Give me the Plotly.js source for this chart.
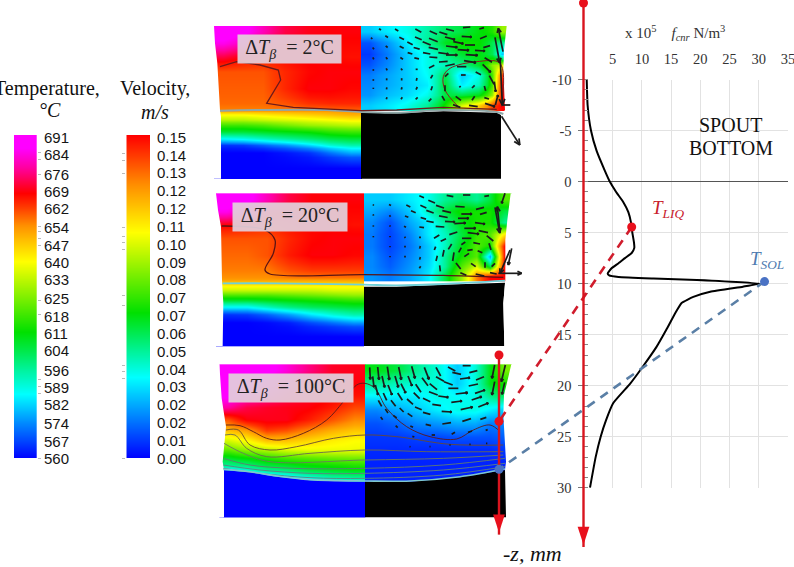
<!DOCTYPE html>
<html><head><meta charset="utf-8">
<script src="https://cdn.plot.ly/plotly-3.0.1.min.js"></script>
<style>html,body{margin:0;padding:0;background:#fff}#c{width:794px;height:567px}</style>
</head><body><div id="c"></div>
<script>
// ---------- colour bars ----------
const temperatureTicks=[691,684,676,669,662,654,647,640,633,625,618,611,604,596,589,582,574,567,560];
const velocityTicks=[0.15,0.1417,0.1333,0.125,0.1167,0.1083,0.1,0.0917,0.0833,0.075,0.0667,0.0583,0.05,0.0417,0.0333,0.025,0.0167,0.0083,0];
const velocityLabels=['0.15','0.14','0.13','0.12','0.12','0.11','0.10','0.09','0.08','0.07','0.07','0.06','0.05','0.04','0.03','0.02','0.02','0.01','0.00'];
const temperatureMarks=[684,681,675,654,652,649,646,624,618,592,589,586,560];
const velocityMarks=[0.1415,0.138,0.132,0.107,0.103,0.1,0.097,0.0755,0.071,0.043,0.04,0.037,0];
const tempScale=[[0,'#0000ff'],[0.2,'#00ffff'],[0.39,'#00e000'],[0.61,'#ffff00'],[0.72,'#ff9000'],[0.82,'#ff0000'],[0.9,'#ff00a0'],[0.96,'#ff00ff'],[1,'#ff00ff']];
const velScale=[[0,'#0000ff'],[0.25,'#00ffff'],[0.45,'#00e000'],[0.7,'#ffff00'],[0.85,'#ff8c00'],[1,'#ff0000']];

// ---------- force curve ----------
const forceZ=[-10,-7.5,-5,-3,-1,0,1,2,3,4,5,6,6.5,7,7.5,8,8.5,9,9.2,9.35,9.5,9.65,10,10.3,10.8,11.3,11.9,12.9,14.5,16.2,18.1,19.8,21.7,23.4,25,27,30];
const forceF=[0.55,0.7,1.28,2.25,3.7,4.5,5.56,6.8,7.68,8.13,8.36,8.65,8.7,8.25,7.1,6,4.8,4.14,4.4,6,12,19.4,30.2,27.3,21.7,18.8,16.8,15.7,14.2,12.5,10.2,8,5.1,3.85,2.94,2.08,1.11];
const forceTicks=[5,10,15,20,25,30,35];
const depthTicks=[-10,-5,0,5,10,15,20,25,30];
const depthLabels=['-10','-5','0','5','10','15','20','25','30'];
const liqPoint=[8.25,4.45], solPoint=[31,9.8];
const lowerAxisF=-14.47, lowerLiqZ=23.5, lowerSolZ=28.2, lowerTopZ=17, lowerEndZ=35.2;
const mainTopZ=-17.5, mainEndZ=36.4;

// ---------- panel 1 (dT = 2) ----------
const t1X=[12,70,130,190,260,330,390,455];
const t1Y=[18,50,90,130,180,230,268,276,290,305,325,345,365,385,410,476];
const t1Z=[[691,688,680,672,669,668,668],[684,680,672,668,667,667,667],[672,668,666,667,668,667,666],[660,660,660,664,667,668,668],[659,659,659,664,668,668,667],[658,658,658,660,663,664,664],[654,654,654,654,654,654,655],[640,640,642,644,646,648,650],[632,632,634,636,638,640,642],[618,618,620,624,628,630,632],[606,606,608,610,612,616,618],[586,588,592,596,600,604,606],[565,566,570,575,582,590,594],[560,560,560,562,565,572,578],[560,560,560,560,560,560,560]];
const v1X=[453,500,560,620,680,730,780,830,860,892];
const v1Y=[18,50,85,120,150,180,210,240,272];
const v1Z=[[.03,.035,.04,.048,.056,.06,.066,.072,.09],[.012,.022,.035,.05,.064,.07,.068,.058,.05],[.008,.018,.03,.04,.052,.062,.066,.058,.03],[.012,.02,.03,.04,.045,.05,.062,.088,.1],[.018,.024,.03,.038,.058,.03,.04,.078,.14],[.02,.025,.03,.035,.062,.035,.045,.078,.15],[.022,.028,.032,.04,.06,.06,.065,.09,.15],[.03,.034,.04,.05,.07,.1,.115,.14,.15]];
const solid1X=[453,560,700,860,873,873,453];
const solid1Y=[278,280,274,278,285,476,476];
const wallL1X=[12,15,22,30,33,33], wallL1Y=[18,70,130,270,290,476];
const wallR1X=[890,882,880,885,873,873], wallR1Y=[18,90,150,270,285,476];
const iface1X=[30,150,350,453,560,700,860,880], iface1Y=[272,270,270,276,278,270,276,282];
const cont1aX=[30,80,150,205,212,170,250,350,453,560,700,860], cont1aY=[140,125,135,150,180,250,262,268,272,270,262,268];
const cont1bX=[745,705,700,720,800,870,875], cont1bY=[260,210,170,145,125,130,260];
const arrows1=[[510,28,6,4],[560,30,10,6],[625,32,18,10],[670,38,22,10],[720,30,24,6],[770,22,22,-2],[815,25,14,-4],[485,55,4,4],[530,50,8,5],[575,55,14,7],[625,55,20,8],[670,60,26,10],[720,55,30,8],[770,50,30,2],[820,52,20,-8],[490,85,4,5],[530,80,6,5],[575,82,12,6],[620,85,18,5],[670,85,28,6],[725,80,34,4],[780,75,30,0],[830,80,20,-6],[490,115,3,6],[530,115,4,6],[575,115,8,5],[620,115,14,3],[670,112,24,2],[725,105,34,0],[785,105,36,2],[835,120,22,14],[490,150,0,5],[530,148,3,6],[575,148,4,5],[620,148,6,0],[665,140,16,-8],[720,135,28,-6],[780,125,36,6],[830,145,24,24],[490,180,0,5],[530,178,0,6],[575,178,0,7],[620,178,-2,8],[665,170,-6,10],[710,165,-10,10],[760,165,14,0],[805,160,16,8],[845,180,14,26],[490,205,0,4],[530,205,-1,6],[575,205,-2,7],[620,205,-4,8],[665,205,-4,12],[705,205,0,18],[750,200,-4,4],[790,200,8,-8],[825,205,4,14],[855,200,4,30],[530,235,-2,6],[575,235,-4,6],[620,235,-6,6],[660,240,-8,8],[700,235,8,14],[745,235,16,12],[790,235,8,-12],[830,235,-14,-4],[860,240,8,-30],[740,258,22,8],[790,258,26,4],[840,255,30,10],[862,90,14,76],[872,60,-14,-70],[874,190,6,130],[888,255,26,0],[902,332,55,86],[700,40,24,8],[745,68,30,6],[700,100,30,4],[760,90,34,2],[810,92,30,2],[650,70,24,10],[600,70,16,8],[600,100,14,4],[650,100,22,4],[700,125,26,-2],[755,140,28,0]];

// ---------- panel 2 (dT = 20) ----------
const t2X=[18,80,140,200,270,340,400,462];
const t2Y=[10,45,85,120,170,220,262,278,292,306,322,340,360,385,410,468];
const t2Z=[[691,688,680,672,668,668,668],[684,678,670,667,667,667,667],[668,666,664,666,667,667,666],[660,660,660,664,667,668,668],[658,658,660,665,668,668,667],[656,656,656,660,662,662,662],[652,652,652,652,652,652,652],[642,642,642,642,642,642,642],[634,634,634,634,634,636,636],[620,620,620,622,624,626,628],[606,606,608,610,612,614,616],[586,586,592,598,602,604,606],[565,566,570,576,584,590,594],[560,560,561,563,568,572,576],[560,560,560,560,560,560,560]];
const v2X=[462,510,570,630,680,730,780,820,860,905];
const v2Y=[10,45,80,115,150,185,215,245,275];
const v2Z=[[.03,.03,.035,.04,.05,.055,.05,.06,.08],[.025,.02,.03,.045,.06,.07,.07,.07,.06],[.02,.012,.025,.035,.05,.065,.07,.07,.05],[.018,.01,.02,.035,.045,.06,.075,.08,.11],[.018,.01,.018,.03,.045,.065,.08,.07,.15],[.02,.012,.02,.03,.05,.07,.08,.025,.15],[.02,.014,.022,.032,.05,.08,.1,.06,.15],[.022,.018,.024,.035,.06,.09,.13,.15,.15]];
const solid2X=[462,560,700,885,880,883,462];
const solid2Y=[290,290,284,278,340,468,468];
const wallL2X=[18,24,33,36,40,38], wallL2Y=[10,60,110,270,340,468];
const wallR2X=[902,892,886,886,880,883], wallR2Y=[10,90,150,270,340,468];
const iface2X=[38,200,462,560,700,885], iface2Y=[280,280,284,286,282,272];
const cont2X=[35,165,195,190,165,180,460,700,880], cont2Y=[108,120,150,190,240,252,254,256,262];
const arrows2=[[635,20,14,6],[665,35,20,8],[720,18,20,4],[770,15,22,0],[830,18,14,-2],[490,45,3,3],[540,45,6,3],[595,48,12,6],[640,50,18,8],[690,50,24,8],[750,50,28,2],[810,55,24,-6],[490,75,2,4],[540,78,3,4],[590,80,10,4],[640,85,16,5],[700,80,26,5],[770,72,32,0],[820,70,20,-6],[490,108,0,4],[540,108,2,4],[585,110,6,3],[635,112,14,2],[690,110,26,2],[750,100,34,-2],[810,100,30,4],[490,140,0,4],[540,140,0,4],[585,142,2,4],[630,142,6,0],[680,140,16,-10],[730,130,24,-8],[790,130,34,4],[840,145,20,16],[540,170,0,4],[585,170,0,5],[630,172,-2,8],[675,175,-4,10],[720,170,-10,16],[760,160,12,-8],[800,160,20,4],[840,170,6,20],[540,200,0,4],[585,200,0,5],[630,205,-2,8],[680,205,-4,16],[730,200,-4,26],[770,195,14,-10],[810,185,14,6],[630,232,-4,6],[690,235,2,18],[745,228,14,18],[790,225,14,10],[825,225,0,-16],[850,225,-10,10],[760,252,18,8],[810,255,26,6],[850,250,20,4],[862,90,14,76],[866,90,-8,-80],[880,25,-10,30],[885,215,-30,70],[900,200,-10,50],[900,250,70,0],[710,65,26,6],[760,85,32,0],[720,95,30,2],[780,115,34,0],[660,95,22,4],[610,65,14,6],[660,65,22,8],[700,150,16,-8],[770,145,28,0],[820,125,28,6],[750,180,8,-14],[700,190,-4,20],[780,180,16,-2]];

// ---------- panel 3 (dT = 100) ----------
const t3X=[28,80,140,200,260,330,400,465];
const t3Y=[28,60,100,140,175,210,240,270,295,320,345,365,385,487];
const t3Z=[[691,691,688,683,676,670,669],[691,688,684,678,672,669,668],[688,682,678,673,670,668,666],[678,672,670,669,668,665,661],[660,668,669,669,665,660,655],[648,652,662,660,655,650,647],[635,640,648,648,645,642,640],[622,628,632,636,638,638,638],[608,612,616,620,622,624,625],[596,598,604,606,610,612,614],[570,580,588,592,598,602,604],[560,560,570,576,584,590,592],[560,560,560,560,560,560,560]];
const v3X=[465,530,590,650,710,770,820,860,905];
const v3Y=[28,65,105,145,185,225,265,305,345,385];
const v3Z=[[.065,.06,.05,.042,.03,.042,.065,.085],[.05,.045,.042,.042,.03,.042,.065,.07],[.035,.035,.035,.04,.038,.04,.05,.055],[.02,.025,.03,.035,.04,.04,.035,.03],[.012,.015,.02,.022,.025,.025,.018,.02],[.008,.008,.01,.01,.012,.012,.012,.014],[.006,.006,.006,.006,.006,.006,.006,.008],[.005,.005,.005,.005,.005,.005,.005,.005],[.005,.005,.005,.005,.005,.005,.005,.005]];
const solid3X=[465,600,750,888,888,465];
const solid3Y=[380,380,367,345,487,487];
const liquidus3X=[40,120,200,300,465,465,40];
const liquidus3Y=[345,352,365,376,380,487,487];
const wallL3X=[28,35,48,38,42,42], wallL3Y=[28,130,215,320,345,487];
const wallR3X=[904,882,880,888,885,888], wallR3Y=[28,120,180,320,345,487];
const iface3X=[40,120,200,300,465,600,750,885], iface3Y=[343,350,363,374,378,378,365,342];
const cont3=[
 {x:[48,90,130,170,210,280,350,400,440,465,495,530,590,660,740,790,840,870],y:[210,212,230,250,255,235,195,140,90,85,100,160,215,245,252,225,210,230],c:'#5a1818'},
 {x:[48,85,120,180,260,370,465,560,720,880],y:[225,225,270,285,275,250,240,245,268,270],c:'#6a4a30'},
 {x:[45,75,110,170,300,465,650,880],y:[240,240,280,305,295,285,290,290],c:'#6a6a50'},
 {x:[42,100,180,465,700,880],y:[265,295,320,315,310,300],c:'#6a7a60'},
 {x:[40,120,250,465,700,885],y:[310,330,340,340,330,310],c:'#607a70'},
 {x:[40,150,300,465,700,885],y:[330,345,355,355,345,325],c:'#608080'},
 {x:[40,150,300,465,700,885],y:[340,355,368,370,360,335],c:'#608080'}];
const arrows3=[[480,55,2,36],[505,55,4,38],[535,55,6,40],[570,55,8,38],[610,52,10,36],[650,55,14,36],[685,50,14,26],[725,42,22,12],[770,32,24,0],[850,50,-8,40],[880,55,-12,50],[500,105,8,30],[540,105,12,30],[580,100,14,28],[625,100,16,24],[670,95,22,18],[715,85,26,10],[765,70,30,-4],[810,70,24,-10],[850,100,-8,40],[880,100,-8,36],[510,145,10,18],[550,145,14,18],[600,140,18,16],[650,135,22,10],[700,125,30,4],[755,115,36,-4],[810,110,30,-10],[515,190,6,8],[555,185,10,8],[600,180,14,10],[650,175,22,6],[710,170,30,2],[770,160,36,-8],[820,150,30,-12],[560,215,6,6],[605,215,8,4],[655,210,16,4],[710,205,26,-4],[770,195,26,-8],[820,190,18,-6],[610,245,6,2],[670,240,10,0],[730,235,10,-6],[780,230,12,-4],[830,225,6,-2],[600,275,3,1],[660,275,3,0],[720,270,4,0],[780,268,4,0],[830,265,4,0],[490,80,4,32],[520,80,8,34],[560,80,10,34],[600,78,12,30],[645,80,18,24],[690,72,24,14],[740,55,26,6],[790,50,24,-6],[525,125,10,22],[570,125,14,22],[620,122,18,18],[670,115,26,10],[730,100,30,0],[790,90,28,-6],[530,168,8,12],[575,165,12,12],[625,160,20,8],[680,150,26,4],[740,140,32,-4],[800,130,30,-10]];

// ---------- helpers ----------
const W=794,H=567;
const dx=(a,b)=>[a/W,b/W];
const dy=(t,b)=>[1-b/H,1-t/H];
const base={visible:false,fixedrange:true};
const traces=[];
function heat(n,x,y,z,zmin,zmax,cs){traces.push({type:'heatmap',x,y,z,zmin,zmax,colorscale:cs,zsmooth:'best',showscale:false,hoverinfo:'skip',xaxis:'x'+n,yaxis:'y'+n});}
function poly(n,x,y,color){traces.push({type:'scatter',mode:'lines',x,y,fill:'toself',fillcolor:color,line:{width:0,color},hoverinfo:'skip',xaxis:'x'+n,yaxis:'y'+n});}
function line(n,x,y,color,w,smooth){traces.push({type:'scatter',mode:'lines',x,y,line:{color,width:w,shape:smooth?'spline':'linear'},hoverinfo:'skip',xaxis:'x'+n,yaxis:'y'+n});}
function mask(n,wx,wy,edge){poly(n,[edge].concat(wx,[edge]),[wy[0]].concat(wy,[wy[wy.length-1]]),'#ffffff');}
function quiver(n,list){const xs=[],ys=[];
 list.forEach(a=>{const [x,y,u,v]=a;const tx=x+u/2,ty=y+v/2,bx=x-u/2,by=y-v/2;xs.push(bx,tx,null);ys.push(by,ty,null);
  const L=Math.hypot(u,v);if(L>30){const h=Math.min(20,L*0.2),ang=Math.atan2(v,u);
   [2.7,-2.7].forEach(d=>{xs.push(tx,tx+h*Math.cos(ang+d),null);ys.push(ty,ty+h*Math.sin(ang+d),null);});}});
 traces.push({type:'scatter',mode:'lines',x:xs,y:ys,line:{color:'#1c1c1c',width:1.7},hoverinfo:'skip',xaxis:'x'+n,yaxis:'y'+n});}
function textCol(n,y,text){traces.push({type:'scatter',mode:'text',x:y.map(()=>0),y,text,textposition:'middle right',textfont:{family:'Liberation Sans',size:15,color:'#151515'},hoverinfo:'skip',xaxis:'x'+n,yaxis:'y'+n,cliponaxis:false});}

// panel traces
heat(1,t1X,t1Y,t1Z,560,691,tempScale);heat(1,v1X,v1Y,v1Z,0,0.15,velScale);
poly(1,solid1X,solid1Y,'#000');mask(1,wallL1X,wallL1Y,0);mask(1,wallR1X,wallR1Y,960);
line(1,iface1X,iface1Y,'#8fa8a8',2,true);line(1,cont1aX,cont1aY,'#6e1a1a',1.3,false);line(1,cont1bX,cont1bY,'#8a2020',1,true);quiver(1,arrows1);

heat(2,t2X,t2Y,t2Z,560,691,tempScale);heat(2,v2X,v2Y,v2Z,0,0.15,velScale);
poly(2,solid2X,solid2Y,'#000');mask(2,wallL2X,wallL2Y,0);mask(2,wallR2X,wallR2Y,960);
line(2,iface2X,iface2Y,'#6fd0d8',1.8,true);line(2,cont2X,cont2Y,'#5a1414',1.3,true);quiver(2,arrows2);

heat(3,t3X,t3Y,t3Z,560,691,tempScale);heat(3,v3X,v3Y,v3Z,0,0.15,velScale);
poly(3,liquidus3X,liquidus3Y,'#0000ff');poly(3,solid3X,solid3Y,'#000');mask(3,wallL3X,wallL3Y,0);mask(3,wallR3X,wallR3Y,960);
cont3.forEach(c=>line(3,c.x,c.y,c.c,0.9,true));line(3,iface3X,iface3Y,'#7fc8cc',1.6,true);quiver(3,arrows3);

// colour bars
const rev=a=>a.slice().reverse();
heat(4,[0,1],rev(temperatureTicks),rev(temperatureTicks).map(v=>[v,v]),560,691,tempScale);
heat(5,[0,1],rev(velocityTicks),rev(velocityTicks).map(v=>[v,v]),0,0.15,velScale);
textCol(6,temperatureTicks,temperatureTicks.map(String));
textCol(7,velocityTicks,velocityLabels);

// chart curve
traces.push({type:'scatter',xaxis:'x8',yaxis:'y8',hoverinfo:'skip',mode:'lines',x:forceF,y:forceZ,line:{color:'#000',width:2,shape:'spline',smoothing:0.4}});

// the same force and depth scale continued over the whole page (drawn last)
const C={xaxis:'x9',yaxis:'y9',hoverinfo:'skip',type:'scatter'};
traces.push(Object.assign({},C,{mode:'lines',x:[liqPoint[0],lowerAxisF],y:[liqPoint[1],lowerLiqZ],line:{color:'#d01c2c',width:2.6,dash:'9px,7px'}}));
traces.push(Object.assign({},C,{mode:'lines',x:[solPoint[0],lowerAxisF],y:[solPoint[1],lowerSolZ],line:{color:'#5a7fa6',width:2.6,dash:'9px,7px'}}));
traces.push(Object.assign({},C,{mode:'lines',x:[0,0],y:[mainTopZ,mainEndZ-0.6],line:{color:'#d9141e',width:2.4}}));
traces.push(Object.assign({},C,{mode:'lines',x:[lowerAxisF,lowerAxisF],y:[lowerTopZ,lowerEndZ-0.6],line:{color:'#d9141e',width:2.4}}));
traces.push(Object.assign({},C,{mode:'markers',x:[0,lowerAxisF,lowerAxisF,liqPoint[0]],y:[mainTopZ,lowerTopZ,lowerLiqZ,liqPoint[1]],marker:{color:'#e8101c',size:9}}));
traces.push(Object.assign({},C,{mode:'markers',x:[solPoint[0],lowerAxisF],y:[solPoint[1],lowerSolZ],marker:{color:'#4a72c4',size:9}}));
traces.push(Object.assign({},C,{mode:'markers',x:[0,lowerAxisF],y:[mainEndZ-0.8,lowerEndZ-0.8],marker:{symbol:'arrow',angle:180,angleref:'up',color:'#e8101c',size:19,line:{width:0}}}));

const crop=(n,top,bot,h)=>({x:{...base,domain:dx(210,530),range:[0,960],anchor:'y'+n},y:{...base,domain:dy(top,bot),range:[h,0],anchor:'x'+n}});
const serif='Liberation Serif';
const boxNote=(n,x,y,w,label)=>({xref:'x'+n,yref:'y'+n,x,y,showarrow:false,width:w,height:26,align:'center',valign:'middle',bgcolor:'rgba(226,208,220,0.93)',
 text:'Δ<i>T<sub>β</sub></i>  = '+label+'°C',font:{family:serif,size:20,color:'#222'}});
const plainNote=(x,y,text,size,color)=>({xref:'paper',yref:'paper',x:x/W,y:1-y/H,xanchor:'center',yanchor:'middle',showarrow:false,text,font:{family:serif,size,color:color||'#111'}});
const chartNote=(x,y,text,size,color)=>({xref:'x9',yref:'y9',x,y,xanchor:'center',yanchor:'middle',showarrow:false,text,font:{family:serif,size,color:color||'#222'}});

const chartL=583.5,chartR=787.9,chartT=79.5,chartB=487.7;
const pxPerF=(chartR-chartL)/35,pxPerZ=(chartB-chartT)/40,zeroZ=chartT+10*pxPerZ;
const p1=crop(1,20,190,510),p2=crop(2,190,360,510),p3=crop(3,355,567,636);
const layout={width:W,height:H,margin:{l:0,r:0,t:0,b:0},paper_bgcolor:'#fff',plot_bgcolor:'rgba(0,0,0,0)',showlegend:false,hovermode:false,
 xaxis1:p1.x,yaxis1:p1.y,xaxis2:p2.x,yaxis2:p2.y,xaxis3:p3.x,yaxis3:p3.y,
 xaxis4:{...base,domain:dx(14,36.7),range:[0,1],anchor:'y4'},
 yaxis4:{fixedrange:true,domain:dy(135,458),range:[560,691],anchor:'x4',side:'right',showgrid:false,zeroline:false,showline:false,tickmode:'array',tickvals:temperatureMarks,showticklabels:false,ticks:'outside',ticklen:3,tickcolor:'#bbb',tickwidth:1},
 xaxis5:{...base,domain:dx(126.3,150),range:[0,1],anchor:'y5'},
 yaxis5:{fixedrange:true,domain:dy(135,458),range:[0,0.15],anchor:'x5',side:'left',showgrid:false,zeroline:false,showline:false,tickmode:'array',tickvals:velocityMarks,showticklabels:false,ticks:'outside',ticklen:3,tickcolor:'#bbb',tickwidth:1},
 xaxis6:{...base,domain:dx(44,80),range:[0,1],anchor:'y6'},
 yaxis6:{...base,domain:dy(139,460),range:[560,691],anchor:'x6'},
 xaxis7:{...base,domain:dx(157,195),range:[0,1],anchor:'y7'},
 yaxis7:{...base,domain:dy(139,460),range:[0,0.15],anchor:'x7'},
 xaxis8:{fixedrange:true,domain:dx(chartL,chartR),range:[0,35],anchor:'y8',side:'top',tickmode:'array',tickvals:forceTicks,ticks:'',ticklabelstandoff:12,ticklabeloverflow:'allow',showgrid:true,gridcolor:'#e2e2e2',gridwidth:1,zeroline:false,showline:false,tickfont:{family:serif,size:14.5,color:'#333'}},
 yaxis8:{fixedrange:true,domain:dy(chartT,chartB),range:[30,-10],anchor:'x8',tickmode:'array',tickvals:depthTicks,ticktext:depthLabels,ticks:'outside',ticklen:5,ticklabelstandoff:3,tickcolor:'#777',showgrid:true,gridcolor:'#e2e2e2',zeroline:true,zerolinecolor:'#555',zerolinewidth:1.4,showline:false,tickfont:{family:serif,size:14.5,color:'#333'},
  minor:{dtick:1,ticks:'inside',ticklen:4,tickcolor:'#888',showgrid:false}},
 xaxis9:{...base,domain:[0,1],range:[-chartL/pxPerF,(W-chartL)/pxPerF],anchor:'y9'},
 yaxis9:{...base,domain:[0,1],range:[(H-zeroZ)/pxPerZ,-zeroZ/pxPerZ],anchor:'x9'},
 annotations:[
  boxNote(1,238,87,101,'2'),boxNote(2,241,81,112,'20'),boxNote(3,244,99,122,'100'),
  plainNote(47,88,'Temperature,',20),plainNote(50,110,'<i>°C</i>',20),
  plainNote(155,89,'Velocity,',20),plainNote(155,112,'<i>m/s</i>',20),
  plainNote(532,553,'<i>-z, mm</i>',22),
  chartNote(25.2,-5.5,'SPOUT',20,'#111'),chartNote(25.2,-3.25,'BOTTOM',20,'#111'),
  chartNote(14.4,2.7,'<i>T<sub>LIQ</sub></i>',19,'#c8202c'),
  chartNote(31.5,7.7,'<i>T<sub>SOL</sub></i>',19,'#4f7bb0'),
  chartNote(15.7,-14.6,'x 10<sup>5</sup>&nbsp;&nbsp;&nbsp;&nbsp;<i>f<sub>cnr</sub></i> N/m<sup>3</sup>',15,'#333')
 ]};
Plotly.newPlot('c',traces,layout,{staticPlot:true,displayModeBar:false});
</script></body></html>
